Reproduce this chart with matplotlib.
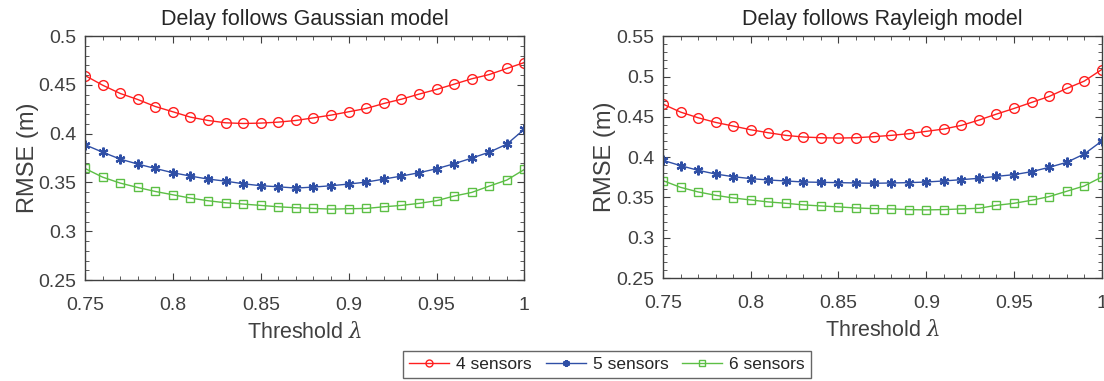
import numpy as np
import matplotlib
matplotlib.use("Agg")
import matplotlib.pyplot as plt
from matplotlib.ticker import MultipleLocator

plt.rcParams["font.family"] = ["Liberation Sans", "DejaVu Sans"]
plt.rcParams["mathtext.fontset"] = "dejavuserif"

threshold = np.round(np.arange(0.75, 1.0001, 0.01), 2)

# Delay follows Gaussian model
gauss_4 = [0.4597, 0.4498, 0.4413, 0.4351, 0.4279, 0.4225, 0.4170, 0.4136, 0.4112, 0.4105,
           0.4109, 0.4119, 0.4136, 0.4163, 0.4191, 0.4225, 0.4259, 0.4310, 0.4354, 0.4406,
           0.4454, 0.4508, 0.4563, 0.4607, 0.4669, 0.4730]
gauss_5 = [0.3887, 0.3811, 0.3740, 0.3689, 0.3644, 0.3600, 0.3566, 0.3535, 0.3514, 0.3487,
           0.3467, 0.3456, 0.3443, 0.3453, 0.3467, 0.3484, 0.3504, 0.3535, 0.3566, 0.3600,
           0.3641, 0.3692, 0.3750, 0.3811, 0.3893, 0.4047]
gauss_6 = [0.3644, 0.3555, 0.3494, 0.3449, 0.3408, 0.3374, 0.3340, 0.3313, 0.3292, 0.3279,
           0.3265, 0.3251, 0.3241, 0.3234, 0.3227, 0.3231, 0.3234, 0.3251, 0.3265, 0.3286,
           0.3313, 0.3361, 0.3398, 0.3463, 0.3525, 0.3634]

# Delay follows Rayleigh model
rayl_4 = [0.4658, 0.4559, 0.4489, 0.4431, 0.4386, 0.4340, 0.4303, 0.4270, 0.4250, 0.4241,
          0.4237, 0.4241, 0.4254, 0.4270, 0.4291, 0.4320, 0.4349, 0.4394, 0.4460, 0.4534,
          0.4604, 0.4679, 0.4753, 0.4852, 0.4943, 0.5087]
rayl_5 = [0.3961, 0.3895, 0.3837, 0.3791, 0.3758, 0.3734, 0.3717, 0.3705, 0.3692, 0.3688,
          0.3684, 0.3680, 0.3676, 0.3680, 0.3684, 0.3692, 0.3705, 0.3721, 0.3738, 0.3762,
          0.3783, 0.3820, 0.3874, 0.3936, 0.4039, 0.4200]
rayl_6 = [0.3709, 0.3626, 0.3569, 0.3527, 0.3494, 0.3469, 0.3445, 0.3428, 0.3408, 0.3395,
          0.3383, 0.3370, 0.3362, 0.3358, 0.3350, 0.3346, 0.3350, 0.3358, 0.3366, 0.3403,
          0.3428, 0.3465, 0.3511, 0.3577, 0.3643, 0.3754]

labels = ["4 sensors", "5 sensors", "6 sensors"]
colors = ["#ff1f1f", "#2f4fa6", "#5cbf45"]
markers = ["o", (6, 2, 0), "s"]
msizes = [7, 7, 5.5]
mews = [1.0, 1.6, 1.0]

TXT = "#262626"
TICK = "#404040"
AX = "#404040"

fig = plt.figure(figsize=(11.04, 3.81), dpi=100)
ax1 = fig.add_axes([0.077, 0.265, 0.398, 0.640])
ax2 = fig.add_axes([0.6005, 0.270, 0.3975, 0.635])

panels = [
    (ax1, [gauss_4, gauss_5, gauss_6], "Delay follows Gaussian model", (0.25, 0.5)),
    (ax2, [rayl_4, rayl_5, rayl_6], "Delay follows Rayleigh model", (0.25, 0.55)),
]

handles = []
for ax, series, title, ylim in panels:
    handles = []
    for ys, lab, c, m, ms, mw in zip(series, labels, colors, markers, msizes, mews):
        h, = ax.plot(threshold, ys, color=c, marker=m, markersize=ms, lw=1.0,
                     markerfacecolor="none", markeredgewidth=mw, label=lab)
        handles.append(h)
    ax.set_xlim(0.75, 1.0)
    ax.set_ylim(*ylim)
    ax.xaxis.set_minor_locator(MultipleLocator(0.01))
    ax.yaxis.set_minor_locator(MultipleLocator(0.01))
    ax.set_xticks([0.75, 0.8, 0.85, 0.9, 0.95, 1.0])
    ax.set_xticklabels(["0.75", "0.8", "0.85", "0.9", "0.95", "1"])
    yt = np.round(np.arange(ylim[0], ylim[1] + 1e-9, 0.05), 2)
    ax.set_yticks(yt)
    ax.set_yticklabels([f"{v:g}" for v in yt])
    ax.tick_params(which="both", direction="in", top=True, right=True,
                   colors=AX, labelcolor=TICK, labelsize=14)
    ax.tick_params(axis="x", pad=12)
    ax.tick_params(axis="y", pad=6)
    ax.tick_params(which="major", length=5)
    ax.tick_params(which="minor", length=3)
    for s in ax.spines.values():
        s.set_color(AX)
        s.set_linewidth(1.0)
    ax.set_title(title, fontsize=15.5, color=TXT, pad=8)
    ax.set_xlabel(r"Threshold $\lambda$", fontsize=15.5, color=TICK, labelpad=6)
    ax.set_ylabel("RMSE (m)", fontsize=17, color=TICK, labelpad=0)

leg = fig.legend(handles, labels, loc="center", bbox_to_anchor=(0.55, 0.043),
                 ncol=3, fontsize=12.5, frameon=True, fancybox=False,
                 handlelength=2.3, columnspacing=0.8, handletextpad=0.4,
                 borderpad=0.35)
leg.get_frame().set_edgecolor(AX)
leg.get_frame().set_linewidth(1.0)
for t in leg.get_texts():
    t.set_color(TXT)
for lh in leg.legend_handles:
    lh.set_markersize(5)

fig.savefig("out.png", dpi=100)
